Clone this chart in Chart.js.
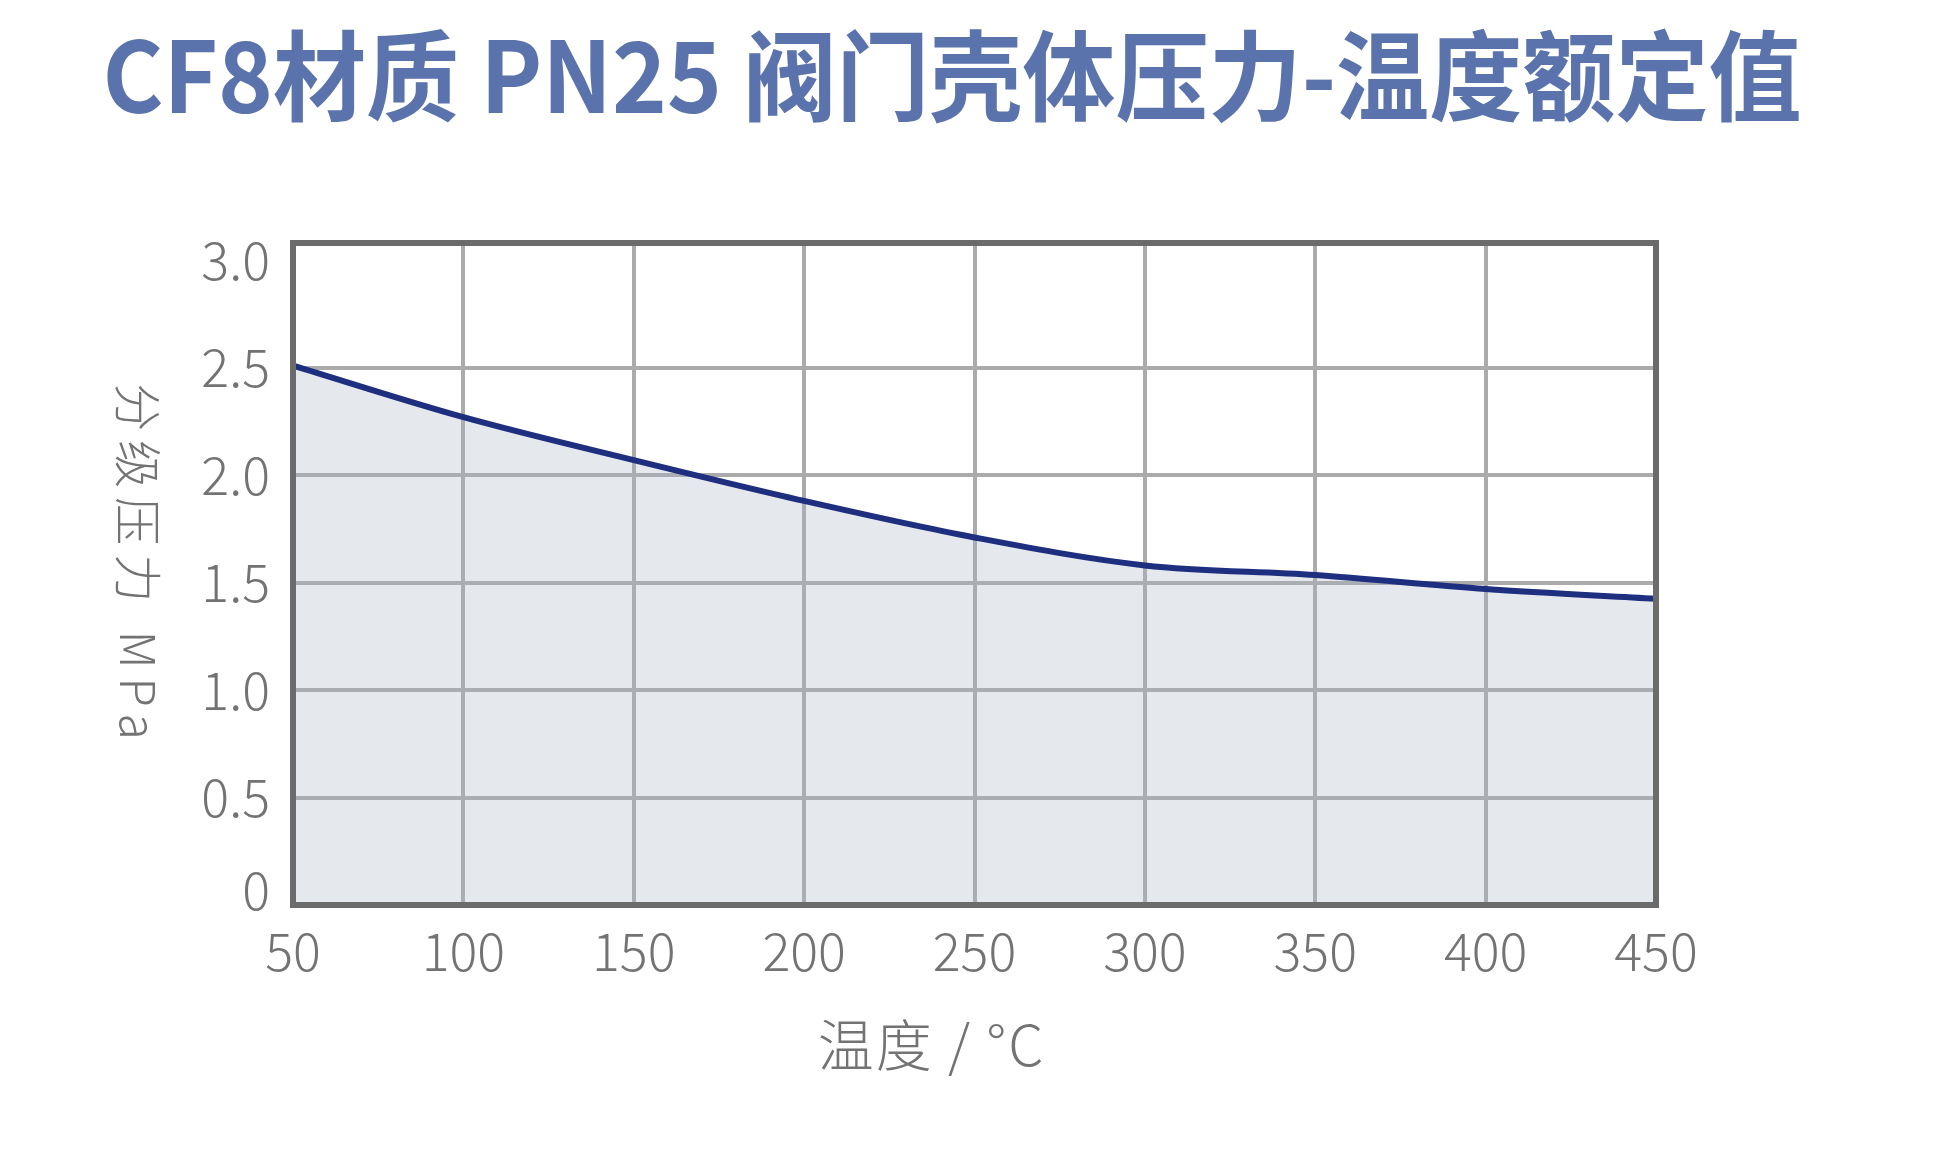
<!DOCTYPE html>
<html>
<head>
<meta charset="utf-8">
<title>CF8材质 PN25 阀门壳体压力-温度额定值</title>
<script src="https://cdn.jsdelivr.net/npm/chart.js@4"></script>
<style>
	body { margin: 0; background: #ffffff; }
	#holder { width: 1946px; height: 1153px; }
</style>
</head>
<body>
<div id="holder"><canvas id="c-rating"></canvas></div>
<script>

// values
let temperatures = [50, 100, 150, 200, 250, 300, 350, 400, 450];
let pressures = [2.51, 2.27, 2.07, 1.88, 1.71, 1.58, 1.535, 1.47, 1.425];
let yTickValues = [0, 0.5, 1.0, 1.5, 2.0, 2.5, 3.0];

let chartTitle = "CF8材质 PN25 阀门壳体压力-温度额定值";
let xTitle = "温度 / °C";
let yTitle = "分级压力 MPa";

let FONT = "'Noto Sans CJK SC', 'Noto Sans', sans-serif";
let GRID_COLOR = "#ababab";
let TEXT_COLOR = "#737373";

let points = [];
for (let i = 0; i < temperatures.length; i++) {
	points.push({ x: temperatures[i], y: pressures[i] });
}

// frame round the plot, the main title and the two axis titles
let framePlugin = {
	id: "frame",
	afterDraw: function(chart) {

		let ctx = chart.ctx;
		let area = chart.chartArea;

		ctx.save();
		ctx.strokeStyle = "#6b6b6b";
		ctx.lineWidth = 6;
		ctx.strokeRect(area.left, area.top, area.right - area.left, area.bottom - area.top);

		ctx.textAlign = "center";
		ctx.textBaseline = "middle";

		// title is a little narrower than the font draws it
		ctx.save();
		ctx.translate(952, 76);
		ctx.scale(0.95, 1);
		ctx.fillStyle = "#5b73ad";
		ctx.font = "bold 98px " + FONT;
		ctx.fillText(chartTitle, 0, 0);
		ctx.restore();

		ctx.fillStyle = TEXT_COLOR;
		ctx.font = "300 56px " + FONT;
		ctx.letterSpacing = "2px";
		ctx.fillText(xTitle, (area.left + area.right) / 2 - 43, area.bottom + 140);

		ctx.translate(area.left - 155, (area.top + area.bottom) / 2 - 8);
		ctx.rotate(Math.PI / 2);
		ctx.font = "300 48px " + FONT;
		ctx.letterSpacing = "9px";
		ctx.fillText(yTitle, 0, 0);
		ctx.restore();

	}
};

let chart = new Chart(document.getElementById("c-rating"), {
	type: "line",
	data: {
		datasets: [{
			data: points,
			borderColor: "#1f2f80",
			borderWidth: 6,
			backgroundColor: "rgba(170, 180, 195, 0.3)",
			fill: "origin",
			pointRadius: 0,
			cubicInterpolationMode: "monotone"
		}]
	},
	options: {
		responsive: true,
		maintainAspectRatio: false,
		animation: false,
		layout: {
			padding: { left: 0, right: 290, top: 243, bottom: 0 }
		},
		plugins: {
			legend: { display: false },
			tooltip: { enabled: false },
			title: { display: false }
		},
		scales: {
			x: {
				type: "linear",
				min: 50,
				max: 450,
				afterFit: function(scale) { scale.height = 248; },
				ticks: {
					stepSize: 50,
					padding: 15,
					color: TEXT_COLOR,
					maxRotation: 0,
					font: { family: FONT, size: 52, weight: 300 }
				},
				grid: {
					drawTicks: false,
					lineWidth: 4,
					color: function(c) {
						if (c.tick && (c.tick.value == 50 || c.tick.value == 450)) return "rgba(0,0,0,0)";
						return GRID_COLOR;
					}
				},
				border: { display: false }
			},
			y: {
				min: 0,
				max: 3.08,
				afterFit: function(scale) { scale.width = 293; },
				afterBuildTicks: function(scale) {
					scale.ticks = yTickValues.map(function(v) { return { value: v }; });
				},
				ticks: {
					padding: 23,
					color: TEXT_COLOR,
					font: function(c) {
						// the "0" label sits a little above its line in the original
						if (c.tick && c.tick.value == 0) return { family: FONT, size: 52, weight: 300, lineHeight: 0.58 };
						return { family: FONT, size: 52, weight: 300 };
					},
					callback: function(value) {
						if (value == 0) return ["0", ""];
						return value.toFixed(1);
					}
				},
				grid: {
					drawTicks: false,
					lineWidth: 4,
					color: function(c) {
						if (c.tick && (c.tick.value == 0 || c.tick.value == 3.0)) return "rgba(0,0,0,0)";
						return GRID_COLOR;
					}
				},
				border: { display: false }
			}
		}
	},
	plugins: [framePlugin]
});

</script>
</body>
</html>
